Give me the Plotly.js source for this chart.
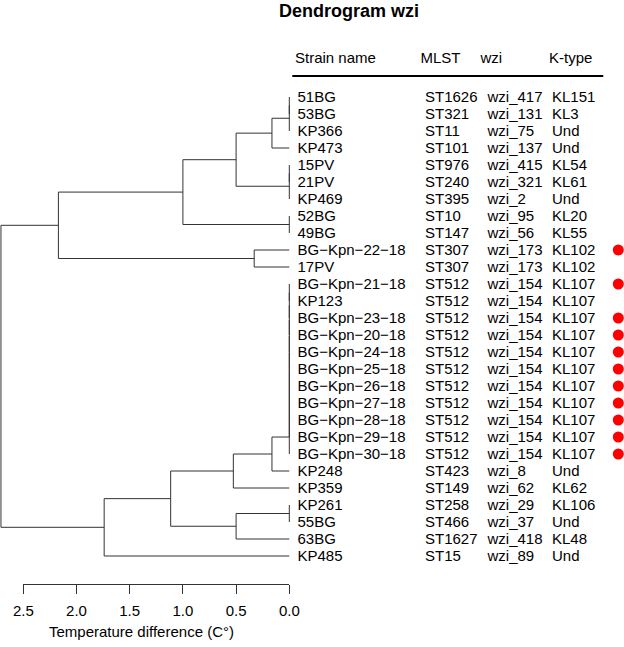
<!DOCTYPE html>
<html>
<head>
<meta charset="utf-8">
<script src="https://cdn.plot.ly/plotly-3.0.1.min.js"></script>
<style>html,body{margin:0;padding:0;background:#fff;}#chart{width:624px;height:647px;}</style>
</head>
<body>
<div id="chart"></div>
<script>
// ---- data ----
const strainNames = ["51BG","53BG","KP366","KP473","15PV","21PV","KP469","52BG","49BG",
  "BG\u2212Kpn\u221222\u221218","17PV","BG\u2212Kpn\u221221\u221218","KP123",
  "BG\u2212Kpn\u221223\u221218","BG\u2212Kpn\u221220\u221218","BG\u2212Kpn\u221224\u221218",
  "BG\u2212Kpn\u221225\u221218","BG\u2212Kpn\u221226\u221218","BG\u2212Kpn\u221227\u221218",
  "BG\u2212Kpn\u221228\u221218","BG\u2212Kpn\u221229\u221218","BG\u2212Kpn\u221230\u221218",
  "KP248","KP359","KP261","55BG","63BG","KP485"];
const mlst = ["ST1626","ST321","ST11","ST101","ST976","ST240","ST395","ST10","ST147",
  "ST307","ST307","ST512","ST512","ST512","ST512","ST512","ST512","ST512","ST512",
  "ST512","ST512","ST512","ST423","ST149","ST258","ST466","ST1627","ST15"];
const wzi = ["wzi_417","wzi_131","wzi_75","wzi_137","wzi_415","wzi_321","wzi_2","wzi_95","wzi_56",
  "wzi_173","wzi_173","wzi_154","wzi_154","wzi_154","wzi_154","wzi_154","wzi_154","wzi_154","wzi_154",
  "wzi_154","wzi_154","wzi_154","wzi_8","wzi_62","wzi_29","wzi_37","wzi_418","wzi_89"];
const kType = ["KL151","KL3","Und","Und","KL54","KL61","Und","KL20","KL55",
  "KL102","KL102","KL107","KL107","KL107","KL107","KL107","KL107","KL107","KL107",
  "KL107","KL107","KL107","Und","KL62","KL106","Und","KL48","Und"];
const highlighted = [0,0,0,0,0,0,0,0,0,1,0,1,0,1,1,1,1,1,1,1,1,1,0,0,0,0,0,0];
const headers = ["Strain name","MLST","wzi","K-type"];

// hclust-style merges (negative = leaf index in display order, positive = earlier merge)
const mergeLeft  = [-1, 1, 2, -5, 4, 3, -8, 6, -10, 8, -12, 11, 12, 13, 14, 15, 16, 17, 18, 19, 20, 21, -25, 23, 22, 25, 10];
const mergeRight = [-2, -3, -4, -6, -7, 5, -9, 7, -11, 9, -13, -14, -15, -16, -17, -18, -19, -20, -21, -22, -23, -24, -26, -27, 24, -28, 26];
const mergeHeight = [0, 0, 0.163, 0, 0, 0.50, 0, 1.00, 0.33, 2.17, 0, 0, 0, 0, 0, 0, 0, 0, 0, 0, 0.163, 0.526, 0, 0.50, 1.115, 1.74, 2.71];
const axisTicks = [2.5, 2.0, 1.5, 1.0, 0.5, 0.0];

// ---- layout helpers (pixel geometry of the figure) ----
const W = 624, H = 647;
const XS = 106.4, X0PX = 289.3;        // px per unit, px of 0.0
const Y0PX = 97, YS = 17;               // px of first leaf, row step
const px2x = p => (X0PX - p) / XS;
const py2i = p => 1 + (p - Y0PX) / YS;

// ---- dendrogram segments ----
const pos = [], hgt = [];
const segX = [], segY = [];
for (let k = 0; k < mergeLeft.length; k++) {
  const ch = [mergeLeft[k], mergeRight[k]].map(c => c < 0 ? {y: -c, h: 0} : {y: pos[c - 1], h: hgt[c - 1]});
  const h = mergeHeight[k];
  segX.push(ch[0].h, h, h, ch[1].h, null);
  segY.push(ch[0].y, ch[0].y, ch[1].y, ch[1].y, null);
  pos.push((ch[0].y + ch[1].y) / 2);
  hgt.push(h);
}

const leafIdx = strainNames.map((_, i) => i + 1);
const font = {family: "Liberation Sans, Arial, Helvetica, sans-serif", size: 15, color: "#000"};
const colPx = [297.5, 425, 487.5, 552];
const headPx = [295, 420.5, 480.5, 549];

function col(values, px) {
  return {type: "scatter", mode: "text", x: values.map(() => px2x(px)), y: leafIdx.map(i => i + 0.06),
    text: values, textposition: "middle right", textfont: font, hoverinfo: "skip", showlegend: false, cliponaxis: false};
}

const dotY = leafIdx.filter((_, i) => highlighted[i]);
const traces = [
  {type: "scatter", mode: "lines", x: segX, y: segY, line: {color: "#333", width: 1}, hoverinfo: "skip", showlegend: false, connectgaps: false},
  col(strainNames, colPx[0]), col(mlst, colPx[1]), col(wzi, colPx[2]), col(kType, colPx[3]),
  {type: "scatter", mode: "text", x: headPx.map(px2x), y: headers.map(() => py2i(59)), text: headers,
    textposition: "middle right", textfont: font, hoverinfo: "skip", showlegend: false, cliponaxis: false},
  {type: "scatter", mode: "markers", x: dotY.map(() => px2x(618.3)), y: dotY,
    marker: {color: "#FF0000", size: 11, line: {width: 0}}, hoverinfo: "skip", showlegend: false, cliponaxis: false},
  {type: "scatter", mode: "lines", x: [axisTicks[0], axisTicks[axisTicks.length - 1]], y: [null, null],
    xaxis: "x2", yaxis: "y", hoverinfo: "skip", showlegend: false}
];

const layout = {
  width: W, height: H, margin: {l: 0, r: 0, t: 0, b: 0}, paper_bgcolor: "#fff", plot_bgcolor: "rgba(0,0,0,0)",
  font: font, showlegend: false,
  title: {text: "<b>Dendrogram wzi</b>", font: {family: font.family, size: 18, color: "#000"},
    x: 349 / W, xanchor: "center", y: 1 - 11 / H, yanchor: "middle", xref: "paper", yref: "paper"},
  xaxis: {domain: [0, 1], range: [px2x(0), px2x(W)], visible: false, fixedrange: true},
  yaxis: {domain: [0, 1], range: [py2i(H), py2i(0)], visible: false, fixedrange: true},
  xaxis2: {domain: [23.3 / W, X0PX / W], range: [2.5, 0], anchor: "free", position: 1 - 584 / H,
    tickvals: axisTicks, tickformat: ".1f", ticks: "outside", ticklen: 9, tickwidth: 1, tickcolor: "#333",
    showline: true, linecolor: "#333", linewidth: 1, showgrid: false, zeroline: false,
    ticklabelstandoff: 4, tickfont: font, fixedrange: true},
  shapes: [{type: "line", xref: "x", yref: "y", x0: px2x(292.3), x1: px2x(603.3), y0: py2i(76), y1: py2i(76),
    line: {color: "#000", width: 2}}],
  annotations: [{text: "Temperature difference (C\u00b0)", xref: "paper", yref: "paper", x: 141.7 / W, y: 1 - 631 / H,
    xanchor: "center", yanchor: "middle", showarrow: false, font: font}]
};

Plotly.newPlot("chart", traces, layout, {displayModeBar: false, staticPlot: true});
</script>
</body>
</html>
